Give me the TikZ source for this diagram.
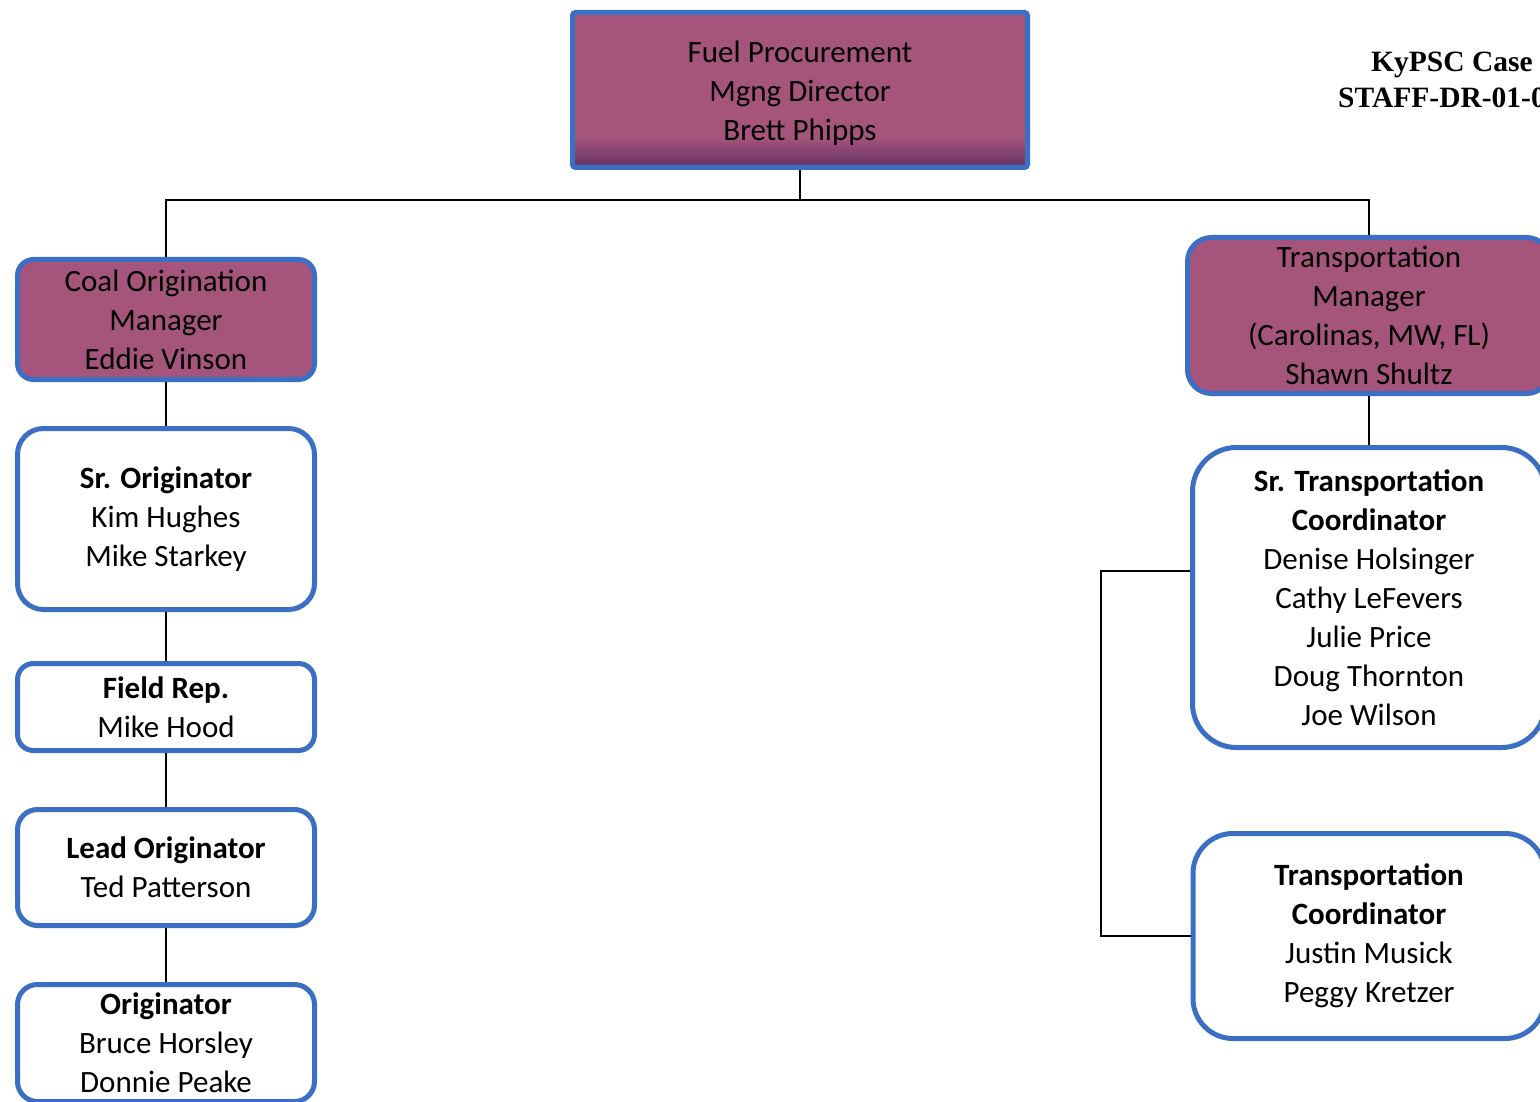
\documentclass[tikz,border=0pt]{standalone}
\usepackage{fontspec}
\setmainfont{Carlito}
\newfontfamily\casefont{Liberation Serif}
\definecolor{mgr}{HTML}{A5557C}
\definecolor{mgrdark}{HTML}{663266}
\definecolor{edge}{HTML}{3B6FC4}
\begin{document}
\begin{tikzpicture}[x=1pt,y=-1pt,
  boxtext/.style={align=center, inner sep=0pt,
    font=\fontsize{31}{39}\selectfont, text=black},
  box/.style={boxtext, draw=edge, line width=5pt},
  mbox/.style={box, fill=mgr},
  wbox/.style={box, fill=white},
  conn/.style={line width=2.5pt, draw=black},
  casetext/.style={anchor=base west, inner sep=0pt,
    font=\casefont\bfseries\fontsize{29.5}{35}\selectfont}]
\useasboundingbox (0,0) rectangle (1540,1102);
\clip (0,0) rectangle (1540,1102);
\fill[white] (0,0) rectangle (1540,1102);

% header reference at the top right
\node[casetext] (case1) at (1371,72) {KyPSC Case};
\node[casetext] (case2) at (1338,108) {STAFF-DR-01-0};

% director, darkening towards its lower edge in thin bands
\node[mbox, rounded corners=3pt, minimum width=455pt, minimum height=155pt,
  path picture={\foreach \i in {0,...,13}{
      \pgfmathtruncatemacro\p{100-7*\i}
      \fill[mgrdark!\p!mgr]
        ([yshift={2*\i*1pt}]path picture bounding box.south west) rectangle
        ([yshift={(2*\i+2.3)*1pt}]path picture bounding box.south east);}}]
  (dir) at (800,90) {};
\node[boxtext] (dirtext) at (800,93.5) {Fuel Procurement\\Mgng Director\\Brett Phipps};

% coal origination branch
\node[mbox, rounded corners=16pt, minimum width=297pt, minimum height=120pt]
  (coal) at (166,319.5) {Coal Origination\\Manager\\Eddie Vinson};
\node[wbox, rounded corners=26pt, minimum width=297pt, minimum height=181pt]
  (srorig) at (166,519) {\textbf{Sr. Originator}\\Kim Hughes\\Mike Starkey};
\node[wbox, rounded corners=16pt, minimum width=297pt, minimum height=87pt]
  (field) at (166,707) {\textbf{Field Rep.}\\Mike Hood};
\node[wbox, rounded corners=20pt, minimum width=297pt, minimum height=116pt]
  (lead) at (166,867.5) {\textbf{Lead Originator}\\Ted Patterson};
\node[wbox, rounded corners=20pt, minimum width=297pt, minimum height=117pt]
  (orig) at (166,1043) {\textbf{Originator}\\Bruce Horsley\\Donnie Peake};

% transportation branch
\node[mbox, rounded corners=24pt, minimum width=363pt, minimum height=156pt]
  (tmgr) at (1369,315.5) {Transportation\\Manager\\(Carolinas, MW, FL)\\Shawn Shultz};
\node[wbox, rounded corners=44pt, minimum width=353pt, minimum height=300pt]
  (srtrans) at (1369,597.5) {\textbf{Sr. Transportation}\\\textbf{Coordinator}\\Denise Holsinger\\Cathy LeFevers\\Julie Price\\Doug Thornton\\Joe Wilson};
\node[wbox, rounded corners=40pt, minimum width=352pt, minimum height=205pt]
  (tcoord) at (1369,936) {\textbf{Transportation}\\\textbf{Coordinator}\\Justin Musick\\Peggy Kretzer};

% connectors
\coordinate (bus) at (800,200);
\draw[conn] (dir.south) -- (bus);
\draw[conn] (coal.north) |- (bus) -| (tmgr.north);
\draw[conn] (coal.south) -- (srorig.north);
\draw[conn] (srorig.south) -- (field.north);
\draw[conn] (field.south) -- (lead.north);
\draw[conn] (lead.south) -- (orig.north);
\draw[conn] (tmgr.south) -- (srtrans.north);
\coordinate (bt) at (1101,571);
\coordinate (bb) at (1101,936);
\draw[conn] (srtrans.west |- bt) -- (bt) -- (bb) -- (tcoord.west);
\end{tikzpicture}
\end{document}
